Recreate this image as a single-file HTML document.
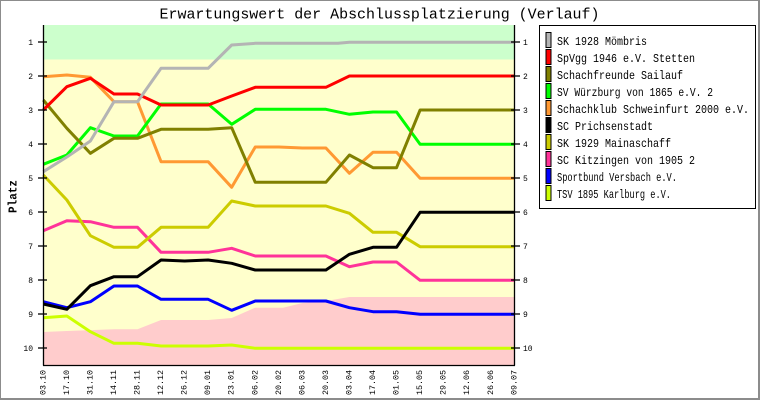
<!DOCTYPE html>
<html><head><meta charset="utf-8"><style>
html,body{margin:0;padding:0;background:#fff;}
svg{display:block;}
text{font-family:"Liberation Mono","DejaVu Sans Mono",monospace;}
</style></head><body>
<svg width="760" height="400" viewBox="0 0 760 400" xmlns="http://www.w3.org/2000/svg">
<rect x="0" y="0" width="760" height="400" fill="#fff"/>
<!-- border -->
<rect x="0.5" y="0.5" width="758" height="398" fill="none" stroke="#8c8c8c" stroke-width="1"/>
<line x1="759" y1="0" x2="759" y2="400" stroke="#8c8c8c" stroke-width="2"/>
<line x1="0" y1="399" x2="760" y2="399" stroke="#8c8c8c" stroke-width="2"/>

<!-- title -->
<text x="159.5" y="18.5" font-size="15" textLength="440" lengthAdjust="spacingAndGlyphs" fill="#000">Erwartungswert der Abschlussplatzierung (Verlauf)</text>

<!-- backgrounds -->
<rect x="43.3" y="25" width="471" height="34.5" fill="#ccffcc"/>
<rect x="43.3" y="59.5" width="471" height="305.5" fill="#ffffcc"/>
<polygon fill="#ffcccc" points="43.3,332 66.85,331 113.95,329.3 137.5,329.3 161.05,320 208.15,320 231.7,318 255.25,307.7 283,307.7 302.35,303 325.9,301 349.45,297 514.3,297 514.3,365 43.3,365"/>

<!-- series -->
<g fill="none" stroke-width="3" stroke-linejoin="round">
<polyline stroke="#ccff00" points="43.3,317.7 66.85,316 90.4,331.7 113.95,343.3 137.5,343.3 161.05,346 208.15,346 231.7,345 255.25,348.3 514.3,348.3"/>
<polyline stroke="#0000ff" points="43.3,301.7 66.85,307.7 90.4,301.7 113.95,286 137.5,286 161.05,299.3 208.15,299.3 231.7,310.3 255.25,301 325.9,301 349.45,307.7 373,311.7 396.55,311.7 420.1,314.3 514.3,314.3"/>
<polyline stroke="#ff3399" points="43.3,230.7 66.85,220.7 90.4,221.7 113.95,227.3 137.5,227.3 161.05,252.3 208.15,252.3 231.7,248.3 255.25,256 325.9,256 349.45,266.7 373,262 396.55,262 420.1,280.3 514.3,280.3"/>
<polyline stroke="#cccc00" points="43.3,175 66.85,200 90.4,235.7 113.95,247.3 137.5,247.3 161.05,227.3 208.15,227.3 231.7,201 255.25,206 325.9,206 349.45,213.3 373,232.3 396.55,232.3 420.1,246.7 514.3,246.7"/>
<polyline stroke="#000000" points="43.3,304 66.85,309.3 90.4,285.7 113.95,276.7 137.5,276.7 161.05,260 184.6,261 208.15,260 231.7,263.3 255.25,270 325.9,270 349.45,254.3 373,247.3 396.55,247.3 420.1,212.3 514.3,212.3"/>
<polyline stroke="#ff9933" points="43.3,76.7 66.85,75 90.4,77.3 113.95,101.7 137.5,101.7 161.05,161.7 208.15,161.7 231.7,187.3 255.25,147 278.8,147 302.35,148 325.9,148 349.45,173.3 373,152.3 396.55,152.3 420.1,178.3 514.3,178.3"/>
<polyline stroke="#00ff00" points="43.3,164.3 66.85,155 90.4,127.7 113.95,136 137.5,136 161.05,104 208.15,104 231.7,124.3 255.25,109.3 325.9,109.3 349.45,114.3 373,112 396.55,112 420.1,144.3 514.3,144.3"/>
<polyline stroke="#808000" points="43.3,100 66.85,128.3 90.4,153.3 113.95,138.3 137.5,138.3 161.05,129.3 208.15,129.3 231.7,127.7 255.25,182.3 325.9,182.3 349.45,155 373,167.7 396.55,167.7 420.1,110 514.3,110"/>
<polyline stroke="#ff0000" points="43.3,110 66.85,86.7 90.4,78.3 113.95,94 137.5,94 161.05,105 208.15,105 231.7,96 255.25,87.3 325.9,87.3 349.45,76 514.3,76"/>
<polyline stroke="#b4b4b4" points="43.3,171.7 66.85,157 90.4,141 113.95,101.7 137.5,101.7 161.05,68.3 208.15,68.3 231.7,45 255.25,43.3 338,43.3 349.45,42.3 514.3,42.3"/>
</g>

<!-- axes -->
<g stroke="#000" stroke-width="1.3">
<line x1="43.5" y1="25" x2="43.5" y2="365.5"/>
<line x1="514.5" y1="25" x2="514.5" y2="365.5"/>
<line x1="43" y1="365.5" x2="515" y2="365.5"/>
<line x1="38" y1="42" x2="47" y2="42"/><line x1="38" y1="76" x2="47" y2="76"/><line x1="38" y1="110" x2="47" y2="110"/><line x1="38" y1="144" x2="47" y2="144"/><line x1="38" y1="178" x2="47" y2="178"/><line x1="38" y1="212" x2="47" y2="212"/><line x1="38" y1="246" x2="47" y2="246"/><line x1="38" y1="280" x2="47" y2="280"/><line x1="38" y1="314" x2="47" y2="314"/><line x1="38" y1="348" x2="47" y2="348"/>
<line x1="511" y1="42" x2="520" y2="42"/><line x1="511" y1="76" x2="520" y2="76"/><line x1="511" y1="110" x2="520" y2="110"/><line x1="511" y1="144" x2="520" y2="144"/><line x1="511" y1="178" x2="520" y2="178"/><line x1="511" y1="212" x2="520" y2="212"/><line x1="511" y1="246" x2="520" y2="246"/><line x1="511" y1="280" x2="520" y2="280"/><line x1="511" y1="314" x2="520" y2="314"/><line x1="511" y1="348" x2="520" y2="348"/>
</g>

<!-- y tick labels -->
<g font-size="8" fill="#000" text-anchor="end">
<text x="33" y="45">1</text><text x="33" y="79">2</text><text x="33" y="113">3</text><text x="33" y="147">4</text><text x="33" y="181">5</text><text x="33" y="215">6</text><text x="33" y="249">7</text><text x="33" y="283">8</text><text x="33" y="317">9</text><text x="33" y="351">10</text>
</g>
<g font-size="8" fill="#000">
<text x="523" y="45">1</text><text x="523" y="79">2</text><text x="523" y="113">3</text><text x="523" y="147">4</text><text x="523" y="181">5</text><text x="523" y="215">6</text><text x="523" y="249">7</text><text x="523" y="283">8</text><text x="523" y="317">9</text><text x="523" y="351">10</text>
</g>

<!-- y axis title -->
<text transform="translate(16.5,213) rotate(-90)" font-size="12" font-weight="bold" textLength="33" lengthAdjust="spacingAndGlyphs" fill="#000">Platz</text>

<!-- x labels -->
<g font-size="8" fill="#000">
<text transform="translate(45.3,395) rotate(-90)" textLength="25" lengthAdjust="spacingAndGlyphs">03.10</text>
<text transform="translate(68.85,395) rotate(-90)" textLength="25" lengthAdjust="spacingAndGlyphs">17.10</text>
<text transform="translate(92.4,395) rotate(-90)" textLength="25" lengthAdjust="spacingAndGlyphs">31.10</text>
<text transform="translate(115.95,395) rotate(-90)" textLength="25" lengthAdjust="spacingAndGlyphs">14.11</text>
<text transform="translate(139.5,395) rotate(-90)" textLength="25" lengthAdjust="spacingAndGlyphs">28.11</text>
<text transform="translate(163.05,395) rotate(-90)" textLength="25" lengthAdjust="spacingAndGlyphs">12.12</text>
<text transform="translate(186.6,395) rotate(-90)" textLength="25" lengthAdjust="spacingAndGlyphs">26.12</text>
<text transform="translate(210.15,395) rotate(-90)" textLength="25" lengthAdjust="spacingAndGlyphs">09.01</text>
<text transform="translate(233.7,395) rotate(-90)" textLength="25" lengthAdjust="spacingAndGlyphs">23.01</text>
<text transform="translate(257.25,395) rotate(-90)" textLength="25" lengthAdjust="spacingAndGlyphs">06.02</text>
<text transform="translate(280.8,395) rotate(-90)" textLength="25" lengthAdjust="spacingAndGlyphs">20.02</text>
<text transform="translate(304.35,395) rotate(-90)" textLength="25" lengthAdjust="spacingAndGlyphs">06.03</text>
<text transform="translate(327.9,395) rotate(-90)" textLength="25" lengthAdjust="spacingAndGlyphs">20.03</text>
<text transform="translate(351.45,395) rotate(-90)" textLength="25" lengthAdjust="spacingAndGlyphs">03.04</text>
<text transform="translate(375,395) rotate(-90)" textLength="25" lengthAdjust="spacingAndGlyphs">17.04</text>
<text transform="translate(398.55,395) rotate(-90)" textLength="25" lengthAdjust="spacingAndGlyphs">01.05</text>
<text transform="translate(422.1,395) rotate(-90)" textLength="25" lengthAdjust="spacingAndGlyphs">15.05</text>
<text transform="translate(445.65,395) rotate(-90)" textLength="25" lengthAdjust="spacingAndGlyphs">29.05</text>
<text transform="translate(469.2,395) rotate(-90)" textLength="25" lengthAdjust="spacingAndGlyphs">12.06</text>
<text transform="translate(492.75,395) rotate(-90)" textLength="25" lengthAdjust="spacingAndGlyphs">26.06</text>
<text transform="translate(516.3,395) rotate(-90)" textLength="25" lengthAdjust="spacingAndGlyphs">09.07</text>
</g>

<!-- legend -->
<rect x="539.5" y="25.5" width="216" height="183" fill="#fff" stroke="#000" stroke-width="1"/>
<g stroke="#000" stroke-width="1">
<rect x="546" y="32.5" width="5" height="15" fill="#b4b4b4"/>
<rect x="546" y="49.5" width="5" height="15" fill="#ff0000"/>
<rect x="546" y="66.5" width="5" height="15" fill="#808000"/>
<rect x="546" y="83.5" width="5" height="15" fill="#00ff00"/>
<rect x="546" y="100.5" width="5" height="15" fill="#ff9933"/>
<rect x="546" y="117.5" width="5" height="15" fill="#000000"/>
<rect x="546" y="134.5" width="5" height="15" fill="#cccc00"/>
<rect x="546" y="151.5" width="5" height="15" fill="#ff3399"/>
<rect x="546" y="168.5" width="5" height="15" fill="#0000ff"/>
<rect x="546" y="185.5" width="5" height="15" fill="#ccff00"/>
</g>
<g font-size="12" fill="#000">
<text x="557" y="45" textLength="90" lengthAdjust="spacingAndGlyphs">SK 1928 Mömbris</text>
<text x="557" y="62" textLength="138" lengthAdjust="spacingAndGlyphs">SpVgg 1946 e.V. Stetten</text>
<text x="557" y="79" textLength="126" lengthAdjust="spacingAndGlyphs">Schachfreunde Sailauf</text>
<text x="557" y="96" textLength="156" lengthAdjust="spacingAndGlyphs">SV Würzburg von 1865 e.V. 2</text>
<text x="557" y="113" textLength="192" lengthAdjust="spacingAndGlyphs">Schachklub Schweinfurt 2000 e.V.</text>
<text x="557" y="130" textLength="96" lengthAdjust="spacingAndGlyphs">SC Prichsenstadt</text>
<text x="557" y="147" textLength="114" lengthAdjust="spacingAndGlyphs">SK 1929 Mainaschaff</text>
<text x="557" y="164" textLength="138" lengthAdjust="spacingAndGlyphs">SC Kitzingen von 1905 2</text>
<text x="557" y="181" textLength="120" lengthAdjust="spacingAndGlyphs">Sportbund Versbach e.V.</text>
<text x="557" y="198" textLength="114" lengthAdjust="spacingAndGlyphs">TSV 1895 Karlburg e.V.</text>
</g>
</svg>
</body></html>
